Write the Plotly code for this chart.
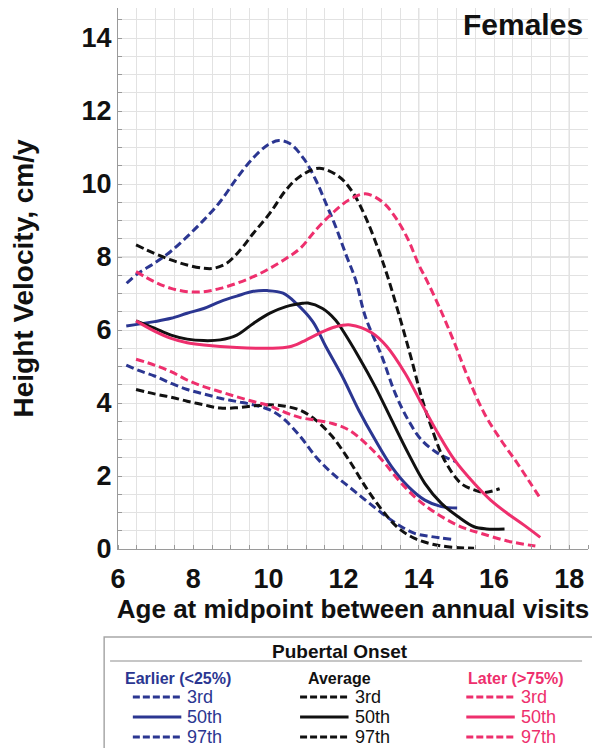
import plotly.graph_objects as go

# ---------------- data ----------------
earlier_3_x = [6.22, 6.53, 6.97, 7.41, 7.84, 8.28, 8.72, 9.16, 9.60, 10.04, 10.39, 10.85, 11.26, 11.70, 12.14, 12.58, 13.02, 13.46, 13.89, 14.33, 14.86]
earlier_3_y = [5.04, 4.90, 4.74, 4.54, 4.37, 4.25, 4.13, 4.04, 3.95, 3.81, 3.58, 3.08, 2.53, 2.07, 1.71, 1.34, 0.98, 0.66, 0.43, 0.34, 0.27]
earlier_50_x = [6.22, 6.97, 7.41, 7.84, 8.28, 8.72, 9.16, 9.60, 9.97, 10.39, 10.74, 11.18, 11.53, 11.97, 12.40, 12.84, 13.28, 13.72, 14.16, 14.60, 15.02]
earlier_50_y = [6.11, 6.23, 6.32, 6.46, 6.59, 6.78, 6.93, 7.06, 7.08, 7.01, 6.73, 6.23, 5.54, 4.72, 3.81, 2.99, 2.25, 1.71, 1.34, 1.16, 1.12]
earlier_97_x = [6.23, 6.53, 6.97, 7.40, 7.84, 8.28, 8.72, 9.16, 9.60, 10.00, 10.28, 10.58, 10.95, 11.26, 11.53, 11.79, 12.05, 12.32, 12.58, 13.02, 13.37, 13.72, 14.07, 14.51, 14.99]
earlier_97_y = [7.28, 7.55, 7.83, 8.15, 8.56, 9.01, 9.52, 10.16, 10.72, 11.08, 11.19, 11.10, 10.68, 10.11, 9.47, 8.83, 8.10, 7.37, 6.36, 5.27, 4.27, 3.53, 2.99, 2.62, 2.39]

average_3_x = [6.48, 6.97, 7.41, 7.84, 8.28, 8.72, 9.16, 9.60, 10.04, 10.45, 10.85, 11.26, 11.70, 12.14, 12.58, 13.02, 13.46, 13.89, 14.33, 14.77, 15.47]
average_3_y = [4.37, 4.25, 4.16, 4.05, 3.95, 3.86, 3.87, 3.92, 3.95, 3.91, 3.80, 3.53, 3.08, 2.44, 1.71, 1.07, 0.57, 0.29, 0.14, 0.06, 0.02]
average_50_x = [6.48, 6.97, 7.41, 7.84, 8.28, 8.72, 9.16, 9.60, 10.04, 10.47, 10.91, 11.05, 11.44, 11.79, 11.97, 12.40, 12.84, 13.28, 13.72, 14.16, 14.60, 15.04, 15.47, 15.80, 16.28]
average_50_y = [6.25, 6.05, 5.86, 5.75, 5.71, 5.73, 5.86, 6.18, 6.46, 6.64, 6.73, 6.74, 6.59, 6.27, 6.00, 5.27, 4.45, 3.53, 2.62, 1.80, 1.25, 0.89, 0.61, 0.55, 0.55]
average_97_x = [6.48, 6.97, 7.41, 7.84, 8.28, 8.54, 8.89, 9.25, 9.60, 10.04, 10.47, 10.83, 11.35, 11.88, 12.23, 12.58, 12.93, 13.20, 13.54, 13.81, 14.07, 14.33, 14.68, 15.12, 15.47, 15.75, 16.15]
average_97_y = [8.33, 8.10, 7.92, 7.78, 7.69, 7.69, 7.83, 8.19, 8.65, 9.20, 9.84, 10.20, 10.43, 10.20, 9.79, 9.10, 8.19, 7.37, 6.18, 5.18, 4.17, 3.35, 2.44, 1.80, 1.62, 1.55, 1.65]

later_3_x = [6.48, 6.97, 7.41, 7.84, 8.28, 8.72, 9.16, 9.60, 10.04, 10.45, 10.85, 11.26, 11.70, 12.14, 12.58, 13.02, 13.46, 13.89, 14.33, 14.77, 15.21, 15.65, 16.35, 17.10]
later_3_y = [5.20, 5.04, 4.86, 4.63, 4.45, 4.31, 4.17, 4.04, 3.92, 3.74, 3.60, 3.53, 3.44, 3.26, 2.90, 2.44, 1.89, 1.43, 1.07, 0.79, 0.57, 0.43, 0.22, 0.08]
later_50_x = [6.48, 6.97, 7.41, 7.84, 8.28, 9.16, 10.04, 10.56, 10.91, 11.35, 11.79, 12.18, 12.76, 13.15, 13.64, 14.07, 14.51, 14.95, 15.47, 15.91, 16.35, 16.79, 17.23]
later_50_y = [6.25, 5.97, 5.77, 5.65, 5.59, 5.52, 5.50, 5.54, 5.68, 5.91, 6.09, 6.14, 5.92, 5.55, 4.81, 3.99, 3.17, 2.44, 1.80, 1.34, 0.98, 0.66, 0.32]
later_97_x = [6.48, 6.97, 7.41, 7.84, 8.28, 8.72, 9.16, 9.60, 10.04, 10.47, 10.85, 11.26, 11.70, 12.14, 12.58, 13.02, 13.37, 13.72, 13.98, 14.25, 14.60, 14.95, 15.30, 15.74, 16.18, 16.62, 16.97, 17.23]
later_97_y = [7.60, 7.32, 7.14, 7.05, 7.05, 7.14, 7.28, 7.46, 7.69, 7.96, 8.24, 8.74, 9.20, 9.56, 9.73, 9.52, 9.10, 8.47, 7.83, 7.28, 6.50, 5.64, 4.72, 3.72, 2.99, 2.35, 1.80, 1.39]

percentile_names = ["3rd", "50th", "97th"]
group_titles = ["Earlier (<25%)", "Average", "Later (>75%)"]
x_ticks = [6, 8, 10, 12, 14, 16, 18]
y_ticks = [0, 2, 4, 6, 8, 10, 12, 14]

BLUE, BLACK, PINK = "#2b3691", "#111111", "#ee2f6d"
groups = [
    ([(earlier_3_x, earlier_3_y), (earlier_50_x, earlier_50_y), (earlier_97_x, earlier_97_y)], BLUE),
    ([(average_3_x, average_3_y), (average_50_x, average_50_y), (average_97_x, average_97_y)], BLACK),
    ([(later_3_x, later_3_y), (later_50_x, later_50_y), (later_97_x, later_97_y)], PINK),
]

FONT = "Liberation Sans, Arial, sans-serif"
CURVE_DASH = "8px,4px"
fig = go.Figure()
for (series, color), gtitle in zip(groups, group_titles):
    for (xs, ys), name in zip(series, percentile_names):
        dash = "solid" if name == "50th" else CURVE_DASH
        fig.add_trace(go.Scatter(
            x=xs, y=ys, mode="lines", name=gtitle + " " + name,
            line=dict(color=color, width=3, dash=dash, shape="spline", smoothing=1.0),
            showlegend=False,
        ))

grid_minor = "#e2e2e2"
grid_major = "#cbcbcb"
W, H = 592, 740
ML, MR, MT, MB = 105, 12, 0, 199
PW, PH = W - ML - MR, H - MT - MB

fig.update_layout(
    width=W, height=H,
    margin=dict(l=ML, r=MR, t=MT, b=MB),
    paper_bgcolor="white", plot_bgcolor="white",
    font=dict(family=FONT, color="#111111"),
    xaxis=dict(
        range=[6, 18.5], tickvals=x_ticks, ticks="", showgrid=True, gridcolor=grid_minor,
        zeroline=False, showline=True, linecolor="#9a9a9a", linewidth=1,
        tickfont=dict(size=27, family=FONT, color="#111111", weight="bold"),
        ticklabelstandoff=6,
        minor=dict(dtick=0.5, showgrid=True, gridcolor=grid_minor, ticks="inside", ticklen=4, tickcolor="#9a9a9a"),
        title=dict(text="<b>Age at midpoint between annual visits</b>", font=dict(size=26, family=FONT, color="#111111"), standoff=3),
        fixedrange=True,
    ),
    yaxis=dict(
        range=[0, PH / 36.5], tickvals=y_ticks, ticks="", showgrid=True, gridcolor=grid_minor,
        zeroline=False, showline=True, linecolor="#9a9a9a", linewidth=1,
        tickfont=dict(size=27, family=FONT, color="#111111", weight="bold"),
        minor=dict(dtick=0.5, showgrid=True, gridcolor=grid_minor, ticks="inside", ticklen=4, tickcolor="#9a9a9a"),
        title=dict(text="<b>Height Velocity, cm/y</b>", font=dict(size=28, family=FONT, color="#111111"), standoff=54),
        fixedrange=True,
    ),
    showlegend=False,
)

# darker reference grid lines
for xv in [10, 14, 18]:
    fig.add_shape(type="line", xref="x", yref="paper", x0=xv, x1=xv, y0=0, y1=1,
                  line=dict(color=grid_major, width=1), layer="below")
fig.add_shape(type="line", xref="paper", yref="paper", x0=0, x1=1,
              y0=8 / (PH / 36.5), y1=8 / (PH / 36.5),
              line=dict(color=grid_major, width=1), layer="below")


def px(fx):
    return (fx - ML) / PW


def py(fy):
    return (MT + PH - fy) / PH


# "Females" label
fig.add_annotation(text="<b>Females</b>", xref="paper", yref="paper", x=px(577), y=py(16),
                   showarrow=False, font=dict(size=30, family=FONT, color="#111111"),
                   xanchor="right", yanchor="middle")

# ---------- legend panel ----------
fig.add_shape(type="rect", xref="paper", yref="paper", x0=px(91), x1=px(586), y0=py(629), y1=py(770),
              line=dict(color="#a8a8a8", width=1.5), fillcolor="rgba(0,0,0,0)")
fig.add_shape(type="line", xref="paper", yref="paper", x0=px(97), x1=px(574), y0=py(653), y1=py(653),
              line=dict(color="#b3b3b3", width=1.5))
fig.add_annotation(text="<b>Pubertal Onset</b>", xref="paper", yref="paper", x=px(329), y=py(643),
                   showarrow=False, font=dict(size=19, family=FONT, color="#111111"),
                   xanchor="center", yanchor="middle")

header_x = [110, 329, 507]
header_anchor = ["left", "center", "center"]
sample_x0 = [120, 289, 457]
row_y = [689, 709, 729]
LEG_SAMPLE_W = 49
for gi, (series, color) in enumerate(groups):
    title = group_titles[gi].replace("<", "&lt;").replace(">", "&gt;")
    fig.add_annotation(text="<b>" + title + "</b>", xref="paper", yref="paper",
                       x=px(header_x[gi]), y=py(670), showarrow=False,
                       font=dict(size=16, family=FONT, color=color),
                       xanchor=header_anchor[gi], yanchor="middle")
    for ri, name in enumerate(percentile_names):
        x0 = sample_x0[gi]
        fig.add_shape(type="line", xref="paper", yref="paper",
                      x0=px(x0), x1=px(x0 + LEG_SAMPLE_W), y0=py(row_y[ri]), y1=py(row_y[ri]),
                      line=dict(color=color, width=3, dash="solid" if name == "50th" else "7px,3px"))
        fig.add_annotation(text=name, xref="paper", yref="paper",
                           x=px(x0 + LEG_SAMPLE_W + 4), y=py(row_y[ri]), showarrow=False,
                           font=dict(size=18, family=FONT, color=color),
                           xanchor="left", yanchor="middle")

fig.write_html("out.html")
